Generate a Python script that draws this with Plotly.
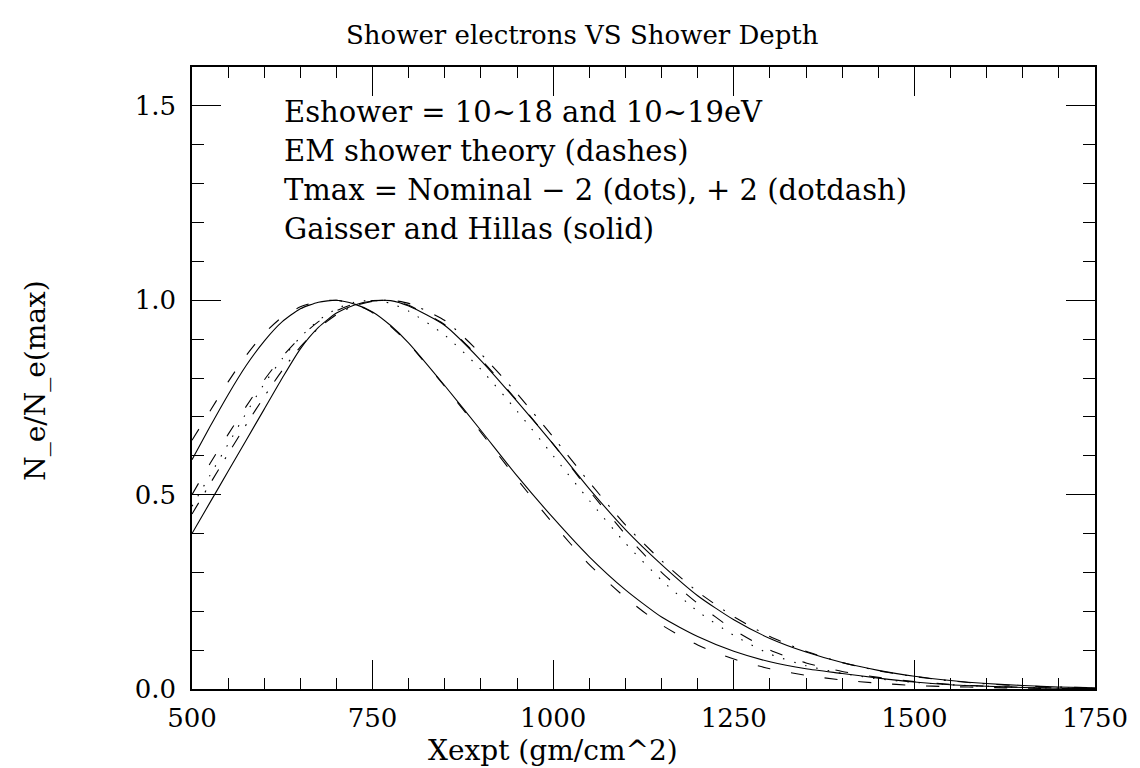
import plotly.graph_objects as go

# Shower depth grid (g/cm^2)
depth = [500, 525, 550, 575, 600, 625, 650, 675, 700, 725, 750, 775, 800,
         850, 900, 950, 1000, 1050, 1100, 1150, 1200, 1250, 1300, 1350,
         1400, 1450, 1500, 1550, 1600, 1650, 1700, 1750]

# 10^18 eV
gh_18 = [0.59, 0.675, 0.757, 0.832, 0.895, 0.945, 0.978, 0.995, 1.0, 0.99, 0.97, 0.935, 0.89,
         0.78, 0.665, 0.548, 0.44, 0.34, 0.255, 0.185, 0.135, 0.097, 0.070, 0.052,
         0.040, 0.028, 0.018, 0.011, 0.007, 0.004, 0.002, 0.001]
em_18 = [0.64, 0.715, 0.79, 0.858, 0.915, 0.957, 0.983, 0.997, 1.0, 0.99, 0.968, 0.933, 0.888,
         0.778, 0.66, 0.54, 0.425, 0.32, 0.235, 0.165, 0.113, 0.077, 0.052, 0.035,
         0.023, 0.015, 0.009, 0.006, 0.004, 0.002, 0.001, 0.0005]

# 10^19 eV
gh_19 = [0.40, 0.48, 0.56, 0.64, 0.72, 0.80, 0.875, 0.93, 0.967, 0.988, 0.998, 0.999, 0.985,
         0.935, 0.845, 0.74, 0.63, 0.515, 0.41, 0.32, 0.24, 0.178, 0.13, 0.095,
         0.068, 0.048, 0.033, 0.022, 0.014, 0.009, 0.005, 0.003]
em_19 = [0.50, 0.58, 0.655, 0.727, 0.795, 0.855, 0.905, 0.945, 0.973, 0.991, 0.999, 0.999, 0.987,
         0.937, 0.848, 0.742, 0.63, 0.51, 0.398, 0.30, 0.22, 0.152, 0.10, 0.067,
         0.045, 0.030, 0.019, 0.012, 0.007, 0.004, 0.0025, 0.0015]
em_19_minus2 = [0.47, 0.55, 0.63, 0.71, 0.785, 0.85, 0.905, 0.948, 0.978, 0.995, 1.0, 0.992, 0.972,
                0.91, 0.822, 0.715, 0.60, 0.485, 0.375, 0.28, 0.20, 0.138, 0.09, 0.06,
                0.04, 0.026, 0.017, 0.011, 0.007, 0.004, 0.0025, 0.0015]
em_19_plus2 = [0.45, 0.528, 0.605, 0.68, 0.752, 0.82, 0.88, 0.928, 0.963, 0.986, 0.997, 1.0, 0.992,
               0.948, 0.862, 0.76, 0.648, 0.532, 0.422, 0.33, 0.25, 0.186, 0.135, 0.097,
               0.068, 0.047, 0.032, 0.021, 0.013, 0.008, 0.005, 0.003]

x_ticks = [500, 750, 1000, 1250, 1500, 1750]
y_ticks = [0.0, 0.5, 1.0, 1.5]

legend_lines = [
    "Eshower = 10~18 and 10~19eV",
    "EM shower theory (dashes)",
    "Tmax = Nominal \u2212 2 (dots), + 2 (dotdash)",
    "Gaisser and Hillas (solid)",
]

FONT = "DejaVu Serif"
OFF = 8  # page body margin
W, H = 1140 - OFF, 768 - OFF
L, T = 192 - OFF, 67 - OFF
PW, PH = 908, 622
R, B = W - L - PW, H - T - PH

series = [
    (gh_18, "solid"),
    (em_18, "13px,21px"),
    (gh_19, "solid"),
    (em_19, "13px,21px"),
    (em_19_minus2, "1.5px,10px"),
    (em_19_plus2, "13px,12px,2px,12px"),
]

fig = go.Figure()
for ys, dash in series:
    fig.add_trace(go.Scatter(x=depth, y=ys, mode="lines",
                             line=dict(color="black", width=1.1, dash=dash,
                                       shape="spline", smoothing=0.6),
                             showlegend=False, hoverinfo="skip"))

axis_common = dict(showgrid=False, zeroline=False, showline=True, linecolor="black",
                   linewidth=1.5, mirror="allticks", ticks="inside", tickcolor="black",
                   tickwidth=1.2, ticklabeloverflow="allow",
                   tickfont=dict(family=FONT, size=26, color="black"))

fig.update_xaxes(range=[500, 1750], tickvals=x_ticks, ticklen=29,
                 minor=dict(dtick=50, ticklen=11, ticks="inside", tickcolor="black", tickwidth=1.2),
                 ticklabelstandoff=5, **axis_common)
fig.update_yaxes(range=[0, 1.6], tickvals=y_ticks, tickformat=".1f", ticklen=29,
                 minor=dict(dtick=0.1, ticklen=12, ticks="inside", tickcolor="black", tickwidth=1.2),
                 ticklabelstandoff=9, **axis_common)

def px_x(px):
    return (px - OFF - L) / PW

def px_y(py):
    return (H - B - (py - OFF)) / PH

annotations = [
    dict(text="Shower electrons VS Shower Depth", x=px_x(585), y=px_y(35),
         font=dict(family=FONT, size=26, color="black")),
    dict(text="Xexpt (gm/cm^2)", x=px_x(555), y=px_y(750),
         font=dict(family=FONT, size=28, color="black")),
    dict(text="N_e/N_e(max)", x=px_x(34), y=px_y(381), textangle=-90,
         font=dict(family=FONT, size=28, color="black")),
]
for i, t in enumerate(legend_lines):
    annotations.append(dict(text=t, x=px_x(283), y=px_y(112 + 39 * i), xanchor="left",
                            font=dict(family=FONT, size=29, color="black")))
for a in annotations:
    a.update(xref="paper", yref="paper", showarrow=False)
    a.setdefault("xanchor", "center")
    a.setdefault("yanchor", "middle")

fig.update_layout(width=W, height=H, margin=dict(l=L, r=R, t=T, b=B),
                  paper_bgcolor="white", plot_bgcolor="white",
                  annotations=annotations)

fig.write_html("out.html")
